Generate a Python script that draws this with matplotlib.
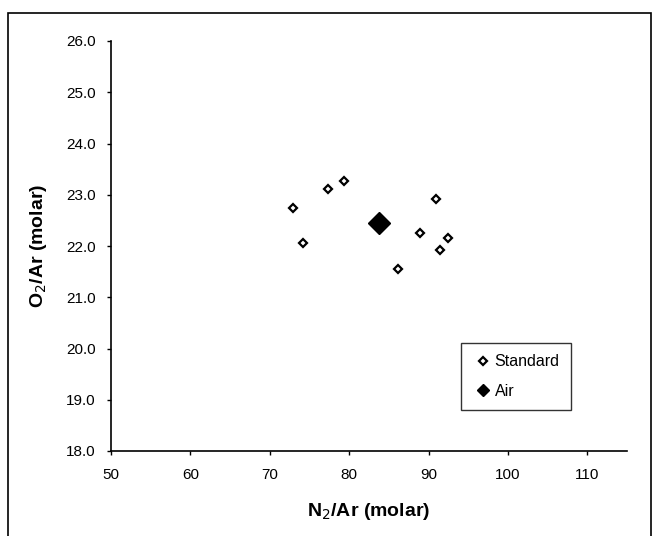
import numpy as np
import matplotlib
matplotlib.use('Agg')
import matplotlib.pyplot as plt
from matplotlib.patches import Rectangle

plt.rcParams['font.family'] = ['Liberation Sans', 'DejaVu Sans']

# Standard samples
std_n2ar = [72.9, 74.2, 77.3, 79.3, 86.2, 88.9, 91.0, 91.4, 92.4]
std_o2ar = [22.74, 22.05, 23.11, 23.26, 21.56, 22.25, 22.91, 21.92, 22.15]

# Air
air_n2ar = [83.7]
air_o2ar = [22.44]

xticks = [50, 60, 70, 80, 90, 100, 110]
yticks = [18, 19, 20, 21, 22, 23, 24, 25, 26]

fig = plt.figure(figsize=(6.6, 5.36), dpi=100)
ax = fig.add_axes([111/660, 1 - 451/536, (627-111)/660, (451-41)/536])

ax.plot(std_n2ar, std_o2ar, linestyle='none', marker='D', ms=3.8,
        mfc='white', mec='black', mew=1.6, label='Standard')
ax.plot(air_n2ar, air_o2ar, linestyle='none', marker='D', ms=11.5,
        mfc='black', mec='black', label='Air')

ax.set_xlim(50, 115)
ax.set_ylim(18, 26)
ax.set_xticks(xticks)
ax.set_yticks(yticks)
ax.set_yticklabels(['%.1f' % v for v in yticks])
ax.tick_params(direction='out', length=3, width=1, labelsize=11)
ax.tick_params(axis='x', pad=9)
ax.tick_params(axis='y', pad=8)
ax.spines['top'].set_visible(False)
ax.spines['right'].set_visible(False)
ax.spines['left'].set_linewidth(1.2)
ax.spines['bottom'].set_linewidth(1.2)

ax.set_xlabel('N$_2$/Ar (molar)', fontsize=14, fontweight='bold', labelpad=14)
ax.set_ylabel('O$_2$/Ar (molar)', fontsize=14, fontweight='bold', labelpad=12)

leg = ax.legend(loc='lower left', bbox_to_anchor=((461-111)/516, (451-410)/410),
                frameon=True, fancybox=False, edgecolor='black', fontsize=11.5,
                handletextpad=0.1, borderpad=0.7, labelspacing=0.9,
                handlelength=1.3, borderaxespad=0)
leg.get_frame().set_linewidth(1.0)
leg.legend_handles[1].set_markersize(6.5)

# outer frame around the chart
fig.patches.append(Rectangle((8/660, -0.02), (651-8)/660, 1.02 - 13/536,
                             transform=fig.transFigure, fill=False,
                             edgecolor='black', linewidth=1.2))

plt.savefig('out.png', dpi=100)
